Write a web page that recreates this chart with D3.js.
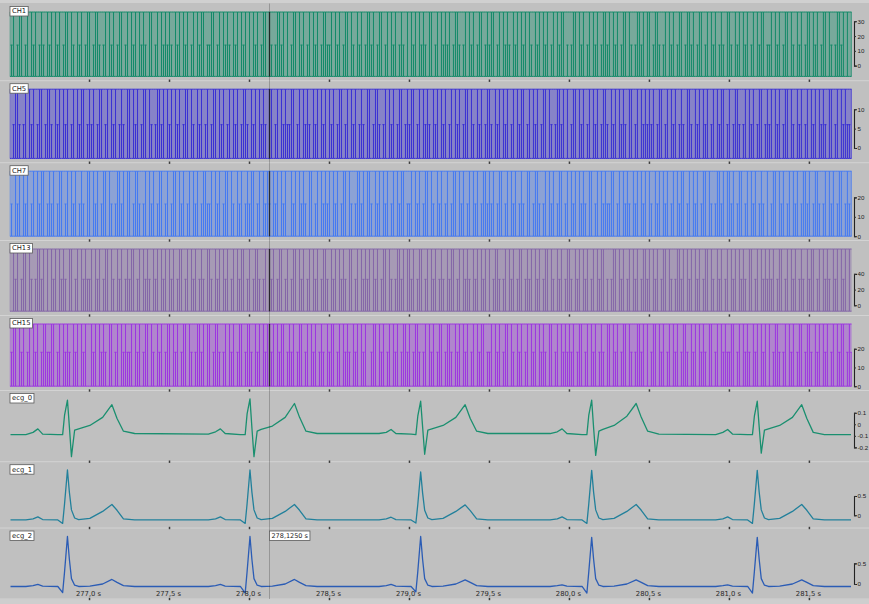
<!DOCTYPE html>
<html>
<head>
<meta charset="utf-8">
<script src="https://cdn.jsdelivr.net/npm/d3@7"></script>
<style>
  html, body { margin: 0; padding: 0; background: #c0c0c0; }
  svg { display: block; }
</style>
</head>
<body>
<svg id="chart" width="869" height="604"></svg>
<script>
// ---------- data ----------
const channelNames = ["CH1", "CH5", "CH7", "CH13", "CH15", "ecg_0", "ecg_1", "ecg_2"];

const timeTicks = [277.0, 277.5, 278.0, 278.5, 279.0, 279.5, 280.0, 280.5, 281.0, 281.5];
const timeTickLabels = ["277,0 s", "277,5 s", "278,0 s", "278,5 s", "279,0 s",
                        "279,5 s", "280,0 s", "280,5 s", "281,0 s", "281,5 s"];
const cursorTime = 278.125;
const cursorLabel = "278,1250 s";

// pulse channels: sample grid, level table (low, mid, high) and per-sample level codes
const pulseStart = 276.5;
const pulseStep = 0.0125;

const ch1Levels = [-7.3, 13.9, 36.3];
const ch1Codes = [
  "21201220120212012102","12021201220210212012","20122101202120122012","02120212102201202121",
  "21021202120120212201","12201202121021202120","20212012202101221202","01220212012021201221",
  "12021201220210212012","21201220120212012102","02120212102201202121","20122101202120122012",
  "12201202121021202120","21021202120120212201","01220212012021201221","20212012202101221202",
  "20122101202120122012","21201220120212012102","21021202120120212201","12021201220210212012",
  "20212012202101221202","02120212102201202121"];
const ch5Levels = [-2.7, 6.05, 15.2];
const ch5Codes = [
  "20122101202120122012","21021202120120212201","21201220120212012102","20212012202101221202",
  "12021201220210212012","01220212012021201221","02120212102201202121","12201202121021202120",
  "21201220120212012102","20122101202120122012","12201202121021202120","12021201220210212012",
  "21021202120120212201","20212012202101221202","01220212012021201221","02120212102201202121",
  "21201220120212012102","21021202120120212201","20122101202120122012","12021201220210212012",
  "02120212102201202121","12201202121021202120"];
const ch7Levels = [0, 16.6, 33.5];
const ch7Codes = [
  "21021202120120212201","21201220120212012102","20212012202101221202","20122101202120122012",
  "01220212012021201221","12021201220210212012","12201202121021202120","02120212102201202121",
  "20212012202101221202","21021202120120212201","12021201220210212012","01220212012021201221",
  "21201220120212012102","20122101202120122012","02120212102201202121","12201202121021202120",
  "21021202120120212201","20212012202101221202","21201220120212012102","01220212012021201221",
  "20122101202120122012","12021201220210212012"];
const ch13Levels = [-7.5, 33.0, 71.7];
const ch13Codes = [
  "20212012202101221202","02120212102201202121","12021201220210212012","12201202121021202120",
  "21201220120212012102","21021202120120212201","20122101202120122012","01220212012021201221",
  "02120212102201202121","20212012202101221202","21201220120212012102","12201202121021202120",
  "20122101202120122012","12021201220210212012","21021202120120212201","01220212012021201221",
  "20212012202101221202","12021201220210212012","02120212102201202121","21201220120212012102",
  "12201202121021202120","20122101202120122012"];
const ch15Levels = [0, 18.1, 33.2];
const ch15Codes = [
  "01220212012021201221","12201202121021202120","02120212102201202121","12021201220210212012",
  "20212012202101221202","20122101202120122012","21021202120120212201","21201220120212012102",
  "12201202121021202120","01220212012021201221","20122101202120122012","21021202120120212201",
  "12021201220210212012","02120212102201202121","21201220120212012102","20212012202101221202",
  "01220212012021201221","02120212102201202121","12201202121021202120","20122101202120122012",
  "21021202120120212201","21201220120212012102"];

const ch1Ticks = [0, 10, 20, 30];
const ch5Ticks = [0, 5, 10];
const ch7Ticks = [0, 10, 20];
const ch13Ticks = [0, 20, 40];
const ch15Ticks = [0, 10, 20];

// ECG channels: shared breakpoints (s) and amplitudes
const ecgTime = [276.506,
  276.602, 276.647, 276.677, 276.707, 276.802, 276.832, 276.844, 276.862, 276.874, 276.887, 276.907, 276.932, 277.002, 277.082, 277.140, 277.172, 277.212, 277.282,
  277.743, 277.788, 277.818, 277.848, 277.943, 277.973, 277.985, 278.003, 278.015, 278.028, 278.048, 278.073, 278.143, 278.223, 278.281, 278.313, 278.353, 278.423,
  278.810, 278.855, 278.885, 278.915, 279.010, 279.040, 279.052, 279.070, 279.082, 279.095, 279.115, 279.140, 279.210, 279.290, 279.348, 279.380, 279.420, 279.490,
  279.879, 279.924, 279.954, 279.984, 280.079, 280.109, 280.121, 280.139, 280.151, 280.164, 280.184, 280.209, 280.279, 280.359, 280.417, 280.449, 280.489, 280.559,
  280.914, 280.959, 280.989, 281.019, 281.114, 281.144, 281.156, 281.174, 281.186, 281.199, 281.219, 281.244, 281.314, 281.394, 281.452, 281.484, 281.524, 281.594,
  281.760];
const ecg0Values = [-0.09,
  -0.09, -0.07, -0.04, -0.085, -0.09, -0.09, 0.08, 0.21, -0.02, -0.28, -0.05, -0.04, -0.01, 0.06, 0.17, 0.05, -0.06, -0.08,
  -0.085, -0.065, -0.04, -0.08, -0.09, -0.09, 0.09, 0.22, -0.03, -0.28, -0.06, -0.045, -0.015, 0.06, 0.18, 0.06, -0.06, -0.08,
  -0.08, -0.07, -0.045, -0.08, -0.085, -0.09, 0.07, 0.20, -0.02, -0.26, -0.05, -0.04, -0.01, 0.06, 0.17, 0.05, -0.06, -0.08,
  -0.08, -0.065, -0.04, -0.08, -0.09, -0.09, 0.08, 0.21, -0.03, -0.27, -0.06, -0.045, -0.01, 0.07, 0.18, 0.06, -0.06, -0.085,
  -0.09, -0.07, -0.045, -0.085, -0.09, -0.09, 0.07, 0.20, -0.02, -0.25, -0.05, -0.04, -0.01, 0.06, 0.17, 0.05, -0.07, -0.09,
  -0.09];
const ecg1Values = [-0.12,
  -0.12, -0.09, -0.04, -0.11, -0.12, -0.21, 0.30, 1.17, 0.60, 0.14, -0.07, -0.11, -0.08, 0.10, 0.28, 0.13, -0.09, -0.12,
  -0.12, -0.09, -0.04, -0.11, -0.12, -0.21, 0.30, 1.17, 0.60, 0.14, -0.07, -0.11, -0.08, 0.10, 0.28, 0.13, -0.09, -0.12,
  -0.12, -0.09, -0.05, -0.11, -0.12, -0.20, 0.28, 1.12, 0.58, 0.13, -0.07, -0.11, -0.08, 0.10, 0.27, 0.12, -0.09, -0.12,
  -0.12, -0.09, -0.04, -0.11, -0.12, -0.21, 0.30, 1.16, 0.60, 0.14, -0.07, -0.11, -0.08, 0.10, 0.28, 0.13, -0.09, -0.12,
  -0.12, -0.09, -0.04, -0.11, -0.12, -0.21, 0.30, 1.16, 0.60, 0.14, -0.07, -0.11, -0.08, 0.10, 0.28, 0.13, -0.09, -0.12,
  -0.12];
const ecg2Values = [-0.06,
  -0.06, -0.04, -0.01, -0.05, -0.06, -0.21, 0.30, 1.15, 0.60, 0.13, -0.03, -0.06, -0.05, 0.00, 0.11, 0.04, -0.04, -0.06,
  -0.06, -0.04, -0.01, -0.05, -0.06, -0.22, 0.30, 1.15, 0.60, 0.13, -0.03, -0.06, -0.05, 0.00, 0.11, 0.04, -0.04, -0.06,
  -0.06, -0.04, -0.01, -0.05, -0.06, -0.19, 0.30, 1.15, 0.60, 0.13, -0.03, -0.06, -0.05, 0.00, 0.10, 0.04, -0.04, -0.06,
  -0.06, -0.04, -0.02, -0.05, -0.06, -0.22, 0.30, 1.13, 0.60, 0.13, -0.03, -0.06, -0.05, 0.00, 0.10, 0.04, -0.04, -0.06,
  -0.06, -0.04, -0.02, -0.05, -0.06, -0.22, 0.30, 1.13, 0.60, 0.13, -0.03, -0.06, -0.05, 0.00, 0.10, 0.04, -0.04, -0.06,
  -0.06];
const ecg0Ticks = [-0.2, -0.1, 0, 0.1];
const ecg1Ticks = [0, 0.5];
const ecg2Ticks = [0, 0.5];

// ---------- layout ----------
const W = 869, H = 604;
const plotLeft = 10.5, plotRight = 851;
const axisX = 854;
const separators = [3.5, 80.7, 162.7, 240.5, 315.5, 390.5, 461.7, 528, 599];
const padTop = 8.5, padBottom = 4.3;
const font = "'DejaVu Sans', Verdana, sans-serif";
const axisFont = "'Liberation Sans', Arial, sans-serif";

const svg = d3.select("#chart");
svg.append("rect").attr("width", W).attr("height", H).attr("fill", "#c0c0c0");
svg.append("rect").attr("x", 0).attr("y", 0).attr("width", W).attr("height", 3)
   .attr("fill", "#d0d0d0");
svg.append("rect").attr("x", 0).attr("y", 599.5).attr("width", W).attr("height", 5)
   .attr("fill", "#cecece");

svg.append("defs").append("clipPath").attr("id", "plotClip")
   .append("rect").attr("x", plotLeft - 0.6).attr("y", 0)
   .attr("width", plotRight - plotLeft + 1.2).attr("height", H);

const x = d3.scaleLinear().domain([276.506, 281.76]).range([plotLeft, plotRight]);

function panelY(i, domain) {
  return d3.scaleLinear().domain(domain)
    .range([separators[i + 1] - padBottom, separators[i] + padTop]);
}

function rightAxis(y, ticks) {
  const lo = d3.min(ticks), hi = d3.max(ticks);
  const sub = d3.scaleLinear().domain([lo, hi]).range([y(lo), y(hi)]);
  const g = svg.append("g")
    .attr("transform", `translate(${axisX},0)`)
    .call(d3.axisRight(sub).tickValues(ticks).tickSize(2).tickSizeOuter(3)
      .tickPadding(1.5).tickFormat(d => String(d)))
    .attr("font-size", 6.2).attr("font-family", axisFont);
  g.select(".domain").attr("stroke", "#222").attr("stroke-width", 1.1);
  g.selectAll(".tick line").attr("stroke", "#333");
  g.selectAll(".tick text").attr("fill", "#222");
}

// panel separators with half-second marks
separators.slice(1).forEach(sy => {
  svg.append("line").attr("x1", 0).attr("x2", W).attr("y1", sy).attr("y2", sy)
     .attr("stroke", "#d3d3d3").attr("stroke-width", 1);
  svg.selectAll(null).data(timeTicks).enter().append("rect")
     .attr("x", d => x(d) - 0.75).attr("y", sy - 1.2)
     .attr("width", 1.5).attr("height", 2.4).attr("fill", "#3c3c3c");
});

// ---------- pulse channels ----------
const pulseChannels = [
  { levels: ch1Levels,  codes: ch1Codes,  ticks: ch1Ticks,  color: "#138a69" },
  { levels: ch5Levels,  codes: ch5Codes,  ticks: ch5Ticks,  color: "#3a30d4" },
  { levels: ch7Levels,  codes: ch7Codes,  ticks: ch7Ticks,  color: "#4479f2" },
  { levels: ch13Levels, codes: ch13Codes, ticks: ch13Ticks, color: "#8466a8" },
  { levels: ch15Levels, codes: ch15Codes, ticks: ch15Ticks, color: "#9c36e0" }
];

const pulseBands = [];
pulseChannels.forEach((ch, i) => {
  const samples = ch.codes.join("").split("").map((c, k) =>
    ({ t: pulseStart + k * pulseStep, code: +c, v: ch.levels[+c] }));
  const y = panelY(i, [ch.levels[0], ch.levels[2]]);
  const [lo, hi] = d3.extent(samples, d => d.v);
  pulseBands.push([y(hi), y(lo)]);
  const g = svg.append("g").attr("clip-path", "url(#plotClip)");
  // swept band between the lowest and highest level
  g.append("path").datum(samples)
    .attr("d", d3.area().x(d => x(d.t)).y0(y(lo)).y1(y(hi)))
    .attr("fill", ch.color).attr("fill-opacity", 0.42)
    .attr("stroke", ch.color).attr("stroke-width", 1);
  // one pulse per sample, drawn from the low level up to its own level
  const pulses = samples.filter(d => d.code > 0);
  g.selectAll(null).data(pulses).enter().append("line")
    .attr("x1", d => x(d.t)).attr("x2", d => x(d.t))
    .attr("y1", y(lo)).attr("y2", d => y(d.v))
    .attr("stroke", ch.color).attr("stroke-width", 1);
  // plateau marks of the mid-level pulses
  g.selectAll(null).data(pulses.filter(d => d.code === 1)).enter().append("line")
    .attr("x1", d => x(d.t) - 1).attr("x2", d => x(d.t) + 1)
    .attr("y1", d => y(d.v)).attr("y2", d => y(d.v))
    .attr("stroke", ch.color).attr("stroke-width", 1.2);
  rightAxis(y, ch.ticks);
});

// ---------- ECG channels ----------
const ecgChannels = [
  { values: ecg0Values, domain: [-0.287, 0.219], ticks: ecg0Ticks, color: "#1a8f6f" },
  { values: ecg1Values, domain: [-0.217, 1.165], ticks: ecg1Ticks, color: "#22809b" },
  { values: ecg2Values, domain: [-0.259, 1.150], ticks: ecg2Ticks, color: "#2b5cb5" }
];

ecgChannels.forEach((ch, j) => {
  const i = j + 5;
  const y = panelY(i, ch.domain);
  const data = ecgTime.map((t, k) => ({ t, v: ch.values[k] }));
  svg.append("g").attr("clip-path", "url(#plotClip)")
    .append("path").datum(data)
    .attr("d", d3.line().x(d => x(d.t)).y(d => y(d.v)))
    .attr("fill", "none").attr("stroke", ch.color).attr("stroke-width", 1.3)
    .attr("stroke-linejoin", "round");
  rightAxis(y, ch.ticks);
});

// ---------- time labels ----------
svg.selectAll(null).data(timeTicks).enter().append("text")
  .attr("x", d => x(d) - 1).attr("y", 595.5)
  .attr("text-anchor", "middle").attr("font-family", font).attr("font-size", 6.8)
  .attr("fill", "#2a2a2a")
  .text((d, k) => timeTickLabels[k]);

// ---------- cursor ----------
const cx = x(cursorTime);
svg.append("line").attr("x1", cx).attr("x2", cx).attr("y1", 3.5).attr("y2", 599)
   .attr("stroke", "#000").attr("stroke-opacity", 0.22).attr("stroke-width", 1);
pulseBands.forEach(([y1, y2]) => {
  svg.append("line").attr("x1", cx).attr("x2", cx).attr("y1", y1).attr("y2", y2)
     .attr("stroke", "#1e1e1e").attr("stroke-opacity", 0.85).attr("stroke-width", 1.3);
});

// ---------- channel name boxes ----------
function labelBox(px, py, txt, size) {
  const g = svg.append("g");
  const rect = g.append("rect").attr("x", px).attr("y", py).attr("height", 9.5)
    .attr("fill", "#fff").attr("stroke", "#5a5a5a").attr("stroke-width", 0.8);
  const t = g.append("text").attr("x", px + 2).attr("y", py + 6.8)
    .attr("font-family", font).attr("font-size", size).attr("fill", "#222").text(txt);
  rect.attr("width", t.node().getComputedTextLength() + 4);
}
channelNames.forEach((name, i) => labelBox(10, separators[i] + 3, name, 6.8));
labelBox(cx, separators[7] + 3, cursorLabel, 6.5);
</script>
</body>
</html>
